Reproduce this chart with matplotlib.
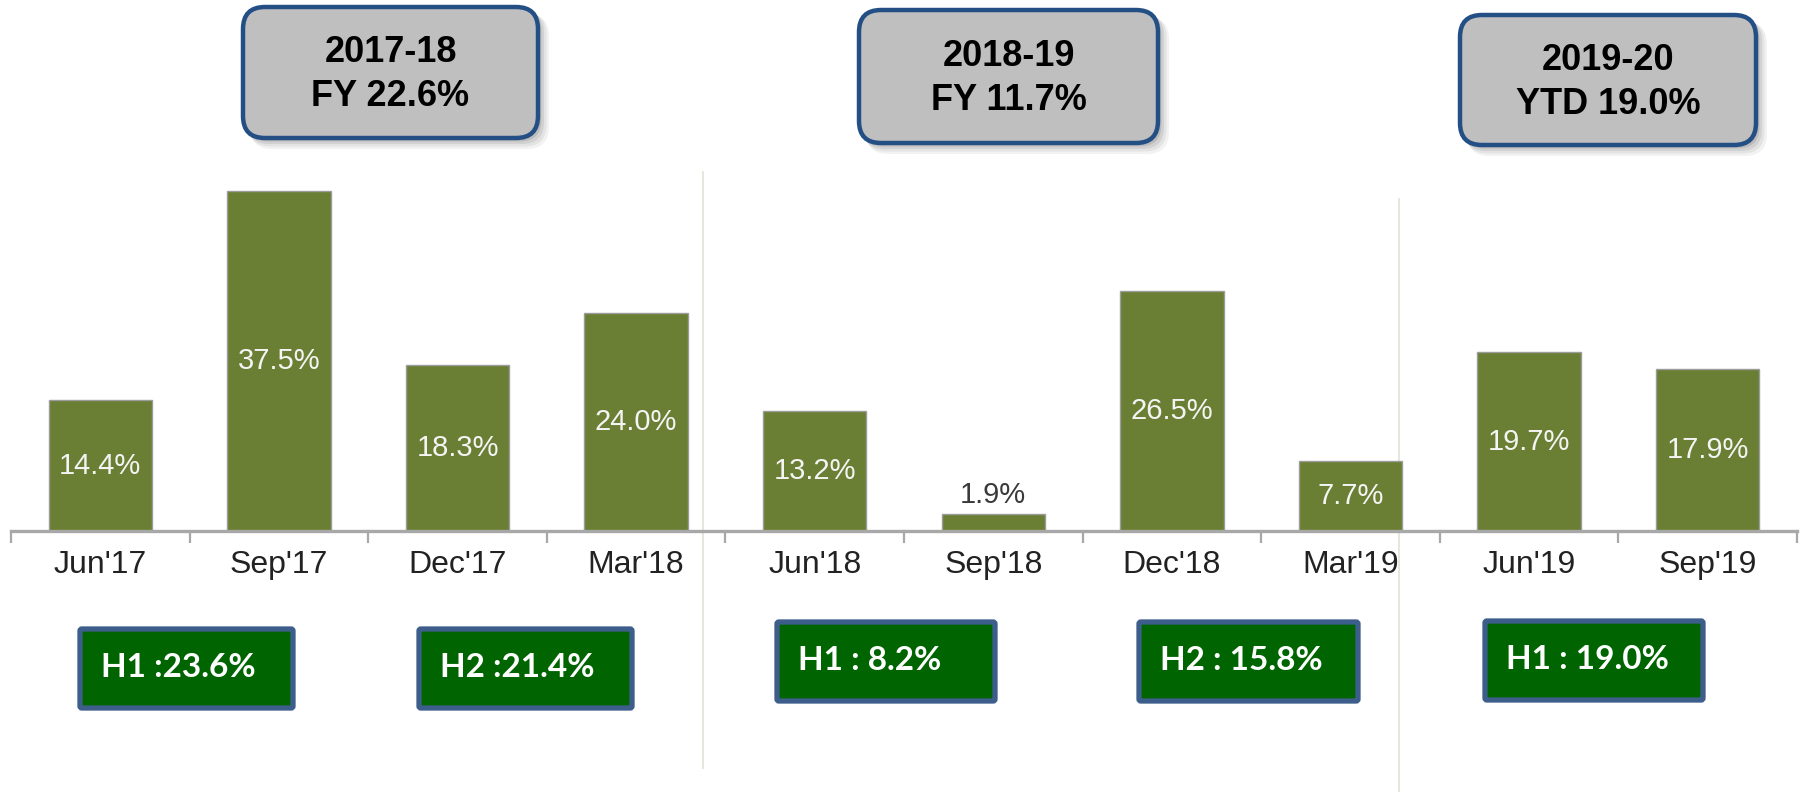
import matplotlib
matplotlib.use("Agg")
import matplotlib.pyplot as plt
from matplotlib.patches import FancyBboxPatch
from matplotlib.lines import Line2D
from matplotlib import font_manager
import numpy as np

# ---------------- data ----------------
quarters = ["Jun'17", "Sep'17", "Dec'17", "Mar'18", "Jun'18",
            "Sep'18", "Dec'18", "Mar'19", "Jun'19", "Sep'19"]
growth = [14.4, 37.5, 18.3, 24.0, 13.2, 1.9, 26.5, 7.7, 19.7, 17.9]
year_titles = ["2017-18", "2018-19", "2019-20"]
year_values = ["FY 22.6%", "FY 11.7%", "YTD 19.0%"]
half_labels = ["H1 :23.6%", "H2 :21.4%", "H1 : 8.2%", "H2 : 15.8%", "H1 : 19.0%"]

# ---------------- fonts ----------------
names = {f.name for f in font_manager.fontManager.ttflist}
narrow = "Liberation Sans Narrow" if "Liberation Sans Narrow" in names else "Liberation Sans"
plt.rcParams['font.family'] = ['Liberation Sans', 'DejaVu Sans']

W, H = 1802, 792
fig = plt.figure(figsize=(W / 100, H / 100), dpi=100)

# overlay axes in pixel coordinates (y downward) for boxes / separators
ov = fig.add_axes([0, 0, 1, 1], zorder=0)
ov.set_xlim(0, W)
ov.set_ylim(H, 0)
ov.axis('off')

# main bar axes
ax = fig.add_axes([11 / W, 1 - 531 / H, 1786 / W, 363 / H], zorder=1)
ax.patch.set_alpha(0)
ax.set_xlim(-0.5, len(quarters) - 0.5)
ax.set_ylim(0, 40)
x = np.arange(len(quarters))
ax.bar(x, growth, width=0.58, color='#6a7f33', edgecolor='#9c9c9c',
       linewidth=1.0, zorder=2)
for xi, v in zip(x, growth):
    if v < 5:
        ax.text(xi, v + 2.1, f"{v:.1f}%", ha='center', va='center',
                color='#3a3a3a', fontsize=21, family=narrow)
    else:
        ax.text(xi, v / 2, f"{v:.1f}%", ha='center', va='center',
                color='#f4f4f4', fontsize=21, family=narrow)

for s in ['top', 'right', 'left']:
    ax.spines[s].set_visible(False)
ax.spines['bottom'].set_color('#a8a8a8')
ax.spines['bottom'].set_linewidth(2.4)
ax.set_yticks([])
ax.set_xticks(x)
ax.set_xticklabels(quarters, fontsize=23, color='#222222')
ax.tick_params(axis='x', which='major', length=0, pad=14)
ax.set_xticks(np.arange(-0.5, len(quarters)), minor=True)
ax.tick_params(axis='x', which='minor', length=8.5, width=1.6, color='#a8a8a8')

# ---------------- separators ----------------
for xs, y0, y1 in [(703, 172, 768), (1399, 199, 792)]:
    ov.add_line(Line2D([xs, xs], [y0, y1], color='#e4e4da', lw=1.3))

# ---------------- top year boxes ----------------
top_boxes = [(243, 7, 295, 131), (859, 10, 299, 133), (1460, 15, 296, 130)]
for (bx, by, bw, bh), t1, t2 in zip(top_boxes, year_titles, year_values):
    for k, a in enumerate([0.05, 0.06, 0.08, 0.10]):
        off = 9 - k * 1.5
        ov.add_patch(FancyBboxPatch((bx + off - 2, by + off - 2), bw + 4 - k, bh + 4 - k,
                                    boxstyle="round,pad=0,rounding_size=22",
                                    facecolor='#000000', edgecolor='none', alpha=a))
    ov.add_patch(FancyBboxPatch((bx, by), bw, bh,
                                boxstyle="round,pad=0,rounding_size=22",
                                facecolor='#bfbfbf', edgecolor='#234f85', lw=3.2))
    cx = bx + bw / 2
    cy = by + bh / 2 + 2
    ov.text(cx, cy - 22, t1, ha='center', va='center', fontsize=26,
            fontweight='bold', color='black')
    ov.text(cx, cy + 22, t2, ha='center', va='center', fontsize=26,
            fontweight='bold', color='black')

# ---------------- half-year boxes ----------------
half_boxes = [(80, 629, 213, 79), (419, 629, 213, 79), (777, 622, 218, 79),
              (1139, 622, 219, 79), (1485, 621, 218, 79)]
for (bx, by, bw, bh), lab in zip(half_boxes, half_labels):
    ov.add_patch(FancyBboxPatch((bx, by), bw, bh,
                                boxstyle="round,pad=0,rounding_size=2",
                                facecolor='#006400', edgecolor='#3d5e8a', lw=3.8))
    ov.text(bx + 21, by + bh / 2 - 1, lab, ha='left', va='center',
            fontsize=24, fontweight='bold', color='white', family=['Lato', 'DejaVu Sans'])

fig.savefig("out.png", dpi=100)
